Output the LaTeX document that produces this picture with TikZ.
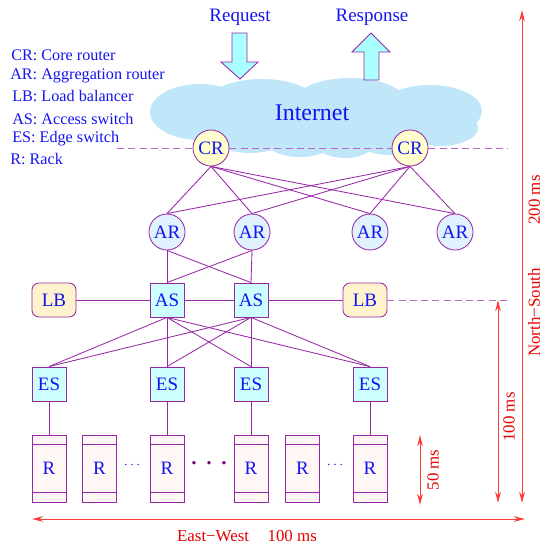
\documentclass[tikz,border=0pt]{standalone}
\usepackage{fontspec}
\setmainfont{Liberation Serif}
\usetikzlibrary{arrows.meta}
\definecolor{linepurple}{RGB}{150,40,165}
\definecolor{dashpurple}{RGB}{190,100,200}
\definecolor{txtblue}{RGB}{20,20,240}
\definecolor{coreyellow}{RGB}{255,255,205}
\definecolor{aggrblue}{RGB}{225,242,255}
\definecolor{switchcyan}{RGB}{205,255,255}
\definecolor{lbyellow}{RGB}{255,243,205}
\definecolor{rackpink}{RGB}{255,246,246}
\definecolor{cloudblue}{RGB}{192,230,250}
\definecolor{arrowcyan}{RGB}{170,255,255}
\definecolor{measred}{RGB}{255,60,60}
\definecolor{textred}{RGB}{230,0,0}
\definecolor{dotpurple}{RGB}{110,0,120}
\tikzset{
  unit/.style={draw=linepurple, text=txtblue, inner sep=0pt, line width=0.6pt,
    font=\fontsize{13.5}{13.5}\selectfont},
  core/.style={unit, circle, fill=coreyellow, minimum size=0.9cm},
  aggr/.style={core, fill=aggrblue},
  switchbox/.style={unit, rectangle, fill=switchcyan, minimum size=0.85cm},
  balancer/.style={unit, rectangle, rounded corners=5pt, fill=lbyellow,
    minimum width=1.1cm, minimum height=0.85cm},
  rackbox/.style={unit, rectangle, fill=rackpink, minimum width=0.85cm, minimum height=1.675cm},
  link/.style={draw=linepurple, line width=0.6pt},
  level/.style={draw=dashpurple, line width=0.7pt, dash pattern=on 5pt off 3pt},
  measure/.style={draw=measred, line width=0.7pt, {Stealth[length=8pt,width=4pt]}-{Stealth[length=8pt,width=4pt]}},
  measuretext/.style={text=textred, font=\fontsize{12}{12}\selectfont},
  legend/.style={text=txtblue, anchor=west, inner sep=0pt, font=\fontsize{11.5}{11.5}\selectfont},
  bigarrow/.style={draw=linepurple, fill=arrowcyan, line width=0.6pt, line join=miter}
}
\begin{document}
\begin{tikzpicture}[x=0.025cm,y=-0.025cm]
\useasboundingbox (0,0) rectangle (550,546);
% Cloud
\fill[cloudblue] (317,118) ellipse [x radius=160, y radius=30];
\fill[cloudblue] (200,112) ellipse [x radius=50, y radius=28];
\fill[cloudblue] (262,103) ellipse [x radius=55, y radius=24];
\fill[cloudblue] (350,101) ellipse [x radius=55, y radius=23];
\fill[cloudblue] (430,111) ellipse [x radius=52, y radius=26];
\fill[cloudblue] (250,135) ellipse [x radius=40, y radius=18];
\fill[cloudblue] (300,140) ellipse [x radius=35, y radius=17];
\fill[cloudblue] (345,142) ellipse [x radius=30, y radius=16];
\fill[cloudblue] (390,138) ellipse [x radius=35, y radius=17];
\fill[cloudblue] (440,128) ellipse [x radius=38, y radius=18];
\node[text=txtblue, font=\fontsize{17}{17}\selectfont] (inet) at (312,113) {Internet};
% Request / response
\draw[bigarrow] (232,33) -- (247,33) -- (247,62) -- (258,62) -- (240,79) -- (221,62) -- (232,62) -- cycle;
\draw[bigarrow] (364,80) -- (379,80) -- (379,52) -- (390,52) -- (371,33) -- (352,52) -- (364,52) -- cycle;
\node[text=txtblue, font=\fontsize{13.5}{13.5}\selectfont] (req) at (240,17) {Request};
\node[text=txtblue, font=\fontsize{13.5}{13.5}\selectfont] (resp) at (372,17) {Response};
% Legend
\node[legend] (lgcr) at (11,55) {CR: Core router};
\node[legend] (lgar) at (10,76) {AR: Aggregation router};
\node[legend] (lglb) at (12,96) {LB: Load balancer};
\node[legend] (lgas) at (12,119) {AS: Access switch};
\node[legend] (lges) at (12,139) {ES: Edge switch};
\node[legend] (lgr) at (10,159) {R: Rack};
% Core routers
\node[core] (cr1) at (211,148) {CR};
\node[core] (cr2) at (410,148) {CR};
\coordinate (crleft) at (117,148);
\coordinate (crright) at (508,148);
\draw[level] (crleft) -- (cr1) (cr1) -- (cr2) (cr2) -- (crright);
% Aggregation routers
\node[aggr] (ar1) at (167,232) {AR};
\node[aggr] (ar2) at (252,232) {AR};
\node[aggr] (ar3) at (370,232) {AR};
\node[aggr] (ar4) at (455,232) {AR};
\foreach \c in {1,2}
  \foreach \a in {1,...,4}
    \draw[link] (cr\c.south) -- (ar\a.north);
% Access switches and load balancers
\node[switchbox] (as1) at (167,300) {AS};
\node[switchbox] (as2) at (251,300) {AS};
\node[balancer] (lb1) at (54,300) {LB};
\node[balancer] (lb2) at (365,300) {LB};
\coordinate (lbend) at (508,300);
\draw[link] (lb1) -- (as1) (as1) -- (as2) (as2) -- (lb2);
\draw[level] (lb2) -- (lbend);
\foreach \a in {1,2}
  \foreach \s in {1,2}
    \draw[link] (ar\a.south) -- (as\s.north);
% Edge switches
\node[switchbox] (es1) at (49,384) {ES};
\node[switchbox] (es2) at (167,384) {ES};
\node[switchbox] (es3) at (251,384) {ES};
\node[switchbox] (es4) at (370,384) {ES};
\foreach \s in {1,2}
  \foreach \e in {1,...,4}
    \draw[link] (as\s.south) -- (es\e.north);
% Racks
\node[rackbox] (r1) at (49,468.5) {R};
\node[rackbox] (r2) at (99.5,468.5) {R};
\node[rackbox] (r3) at (167,468.5) {R};
\node[rackbox] (r4) at (251,468.5) {R};
\node[rackbox] (r5) at (302.5,468.5) {R};
\node[rackbox] (r6) at (370,468.5) {R};
\foreach \r in {1,...,6} {
  \draw[link] ([yshift=-0.25cm]r\r.north west) -- ([yshift=-0.25cm]r\r.north east);
  \draw[link] ([yshift=0.25cm]r\r.south west) -- ([yshift=0.25cm]r\r.south east);
}
\draw[link] (es1) -- (r1) (es2) -- (r3) (es3) -- (r4) (es4) -- (r6);
\node[text=txtblue] (dotsa) at (132,465) {$\cdots$};
\node[text=dotpurple, font=\fontsize{20}{20}\selectfont] (dotsb) at (209,467) {·\hspace{4pt}·\hspace{4pt}·};
\node[text=txtblue] (dotsc) at (335,465) {$\cdots$};
% Latency scales
\coordinate (ewleft) at (32,519);
\coordinate (ewright) at (525,519);
\draw[measure] (ewleft) -- (ewright);
\node[measuretext] (ewtext) at (247,536) {East−West\hspace{1.1em}100 ms};
\coordinate (rtop) at (420,435);
\coordinate (rbot) at (420,505);
\draw[measure] (rtop) -- (rbot);
\node[measuretext, rotate=90] (rtext) at (433,470) {50 ms};
\coordinate (lbtop) at (498,300);
\coordinate (lbbot) at (498,503);
\draw[measure] (lbtop) -- (lbbot);
\node[measuretext, rotate=90] (lbtext) at (509,417) {100 ms};
\coordinate (nstop) at (522,10);
\coordinate (nsbot) at (522,503);
\draw[measure] (nstop) -- (nsbot);
\node[measuretext, rotate=90] (nstext) at (534,266) {North−South\hspace{2.6em}200 ms};
\end{tikzpicture}
\end{document}
